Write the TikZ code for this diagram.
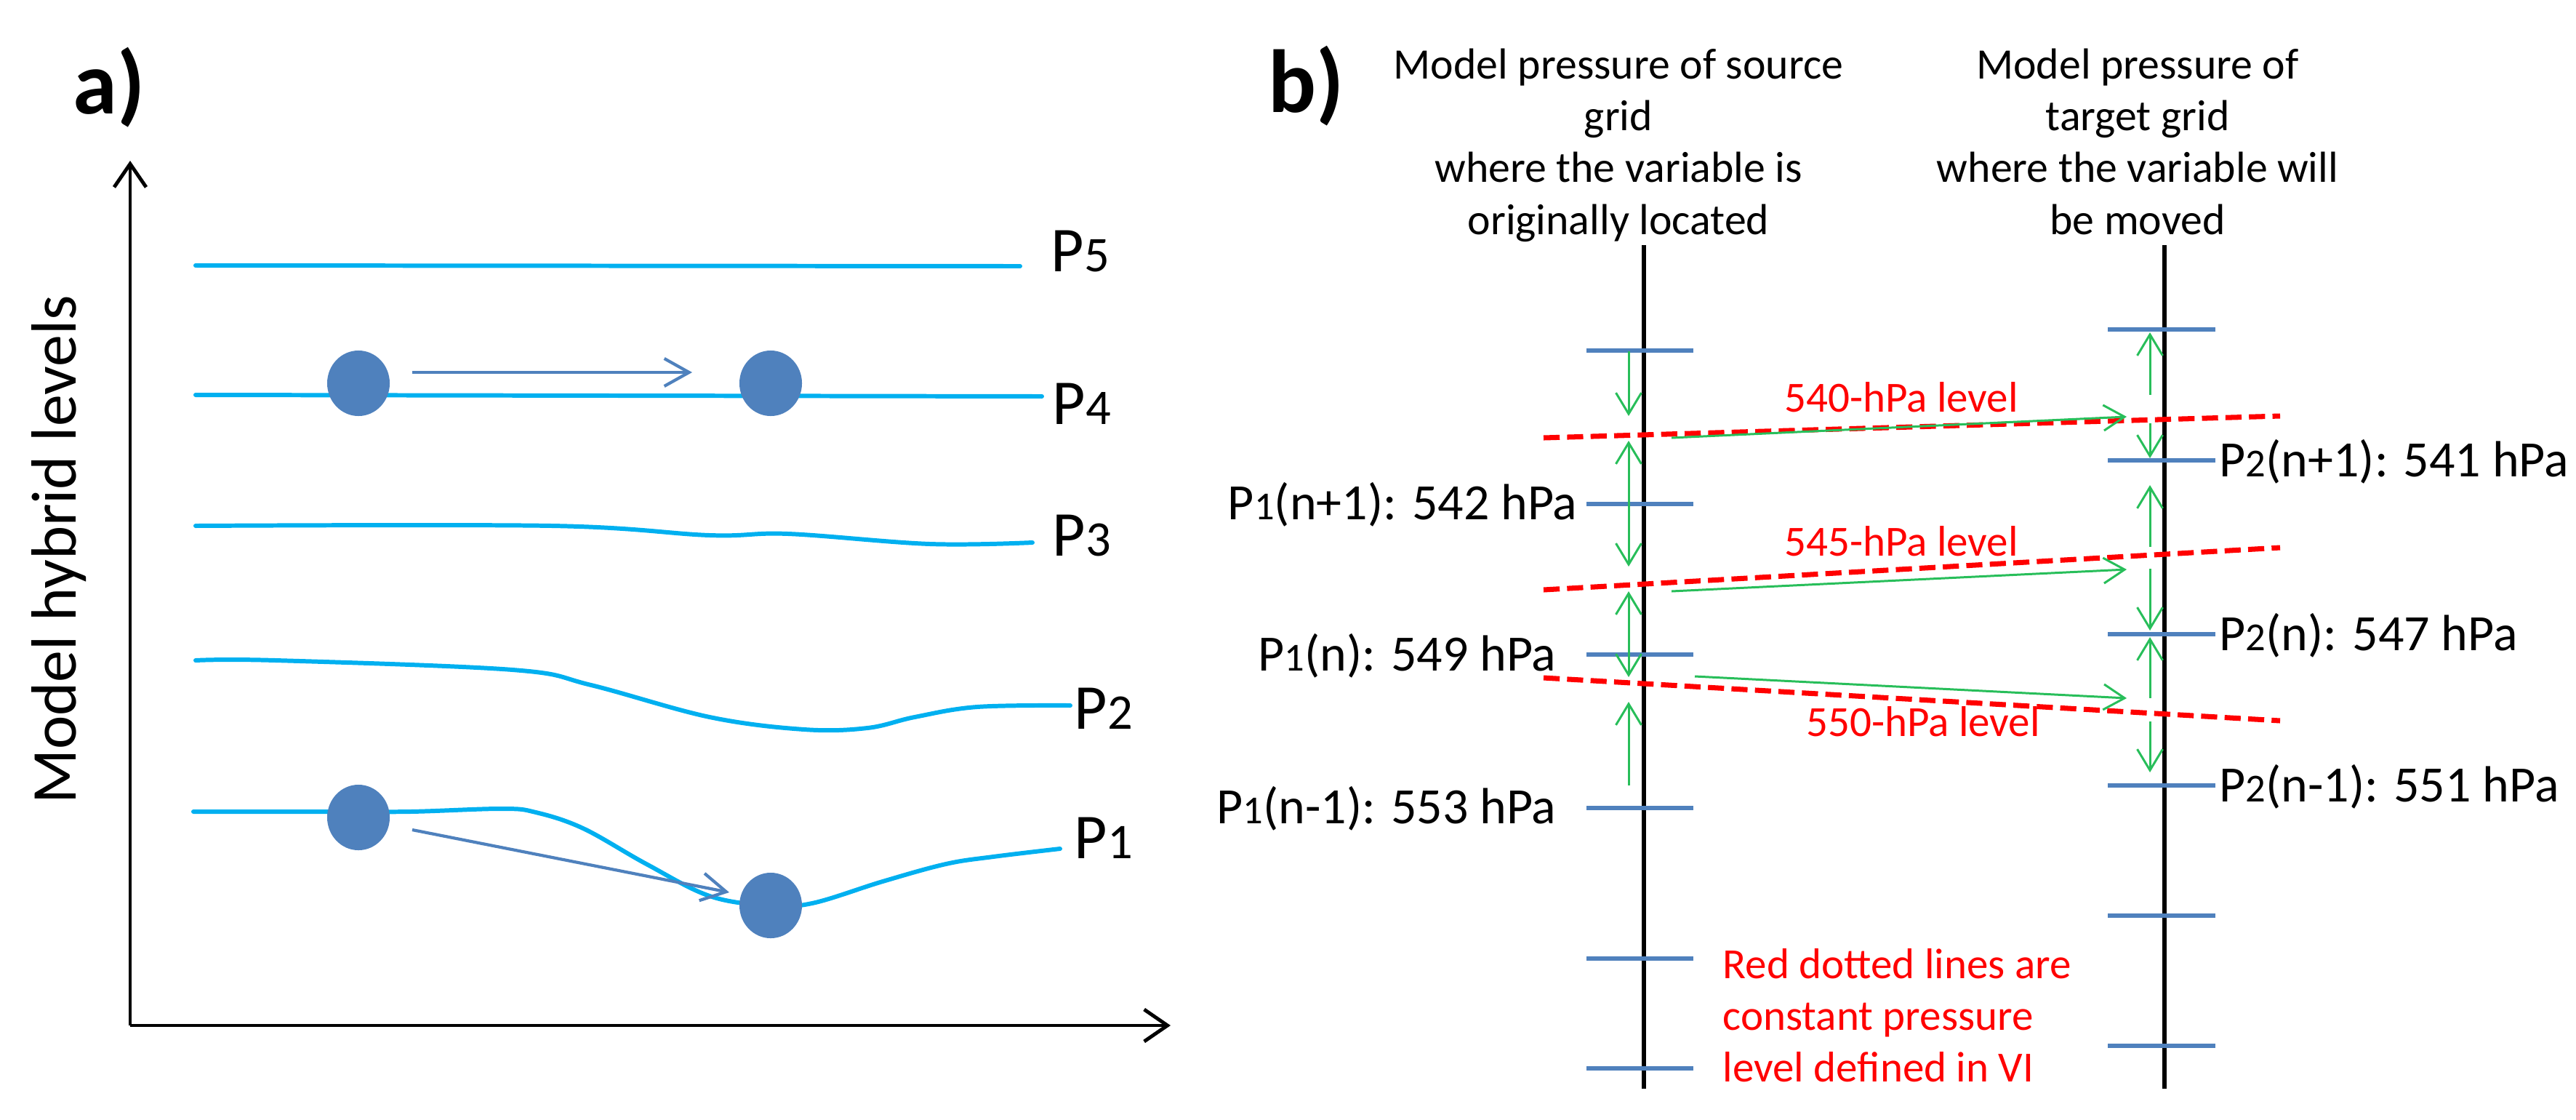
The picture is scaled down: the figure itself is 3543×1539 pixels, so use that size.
\documentclass[tikz,border=0pt]{standalone}
\usepackage{fontspec}
\setmainfont{Carlito}
\usetikzlibrary{arrows.meta,shapes.geometric}
\definecolor{cyanl}{HTML}{00B0F0}
\definecolor{dotb}{HTML}{4F81BD}
\definecolor{grn}{RGB}{40,190,90}
\definecolor{redl}{HTML}{FF0000}
\newcommand\smdig[1]{\scalebox{0.78}{#1}}
\begin{document}
\begin{tikzpicture}[x=0.01cm,y=-0.01cm,
  level/.style={draw=cyanl,line width=1.7pt,line cap=round},
  axisline/.style={draw=black,line width=1.4pt,-{Straight Barb[length=0.32cm,width=0.44cm]}},
  dot/.style={ellipse,fill=dotb,inner sep=0pt,minimum width=0.86cm,minimum height=0.9cm},
  movearr/.style={draw=dotb,line width=1.2pt,-{Straight Barb[length=0.34cm,width=0.38cm]}},
  plab/.style={font=\fontsize{25pt}{30pt}\selectfont,inner sep=0pt},
  tag/.style={font=\fontsize{35pt}{40pt}\selectfont\bfseries,inner sep=0pt},
  head/.style={font=\fontsize{17pt}{20.3pt}\selectfont,align=center,inner sep=0pt,anchor=north},
  vlab/.style={font=\fontsize{19.9pt}{23pt}\selectfont,inner sep=0pt},
  redtxt/.style={font=\fontsize{16.8pt}{20.5pt}\selectfont,text=redl,inner sep=0pt},
  grid/.style={draw=black,line width=1.5pt},
  tick/.style={draw=dotb,line width=1.8pt},
  plevel/.style={draw=redl,line width=2pt,dash pattern=on 6.3pt off 2.9pt},
  garr/.style={draw=grn,line width=0.85pt,-{Straight Barb[length=0.29cm,width=0.35cm]}},
  gdbl/.style={draw=grn,line width=0.85pt,{Straight Barb[length=0.29cm,width=0.35cm]}-{Straight Barb[length=0.29cm,width=0.35cm]}}
]
\useasboundingbox (0,0) rectangle (3543,1539);

% ================= panel a =================
\node[tag] (taga) at (150,120) {a)};
\coordinate (orig) at (179,1410);
\coordinate (ytop) at (179,221);
\coordinate (xend) at (1610,1410);
\draw[axisline] (orig) -- (ytop);
\draw[axisline] (orig) -- (xend);
\node[plab,rotate=90,anchor=base] (ylab) at (104,756) {Model hybrid levels};

% levels
\draw[level] (269,365) -- (1403,366);
\draw[level] (269,543) -- (1433,545);
\draw[level] plot[smooth,tension=0.6] coordinates {(269,723) (759,723) (976,736) (1084,734) (1279,748) (1420,746)};
\draw[level] plot[smooth,tension=0.6] coordinates {(269,908) (379,908) (705,921) (813,942) (976,986) (1106,1003) (1193,1001) (1258,986) (1344,972) (1472,970)};
\draw[level] plot[smooth,tension=0.6] coordinates {(266,1116) (455,1116) (564,1116) (690,1112) (737,1117) (802,1139) (889,1188) (976,1232) (1057,1245) (1117,1242) (1214,1212) (1301,1188) (1366,1178) (1458,1167)};

\node[plab,anchor=base west] (p5) at (1445,373) {P\smdig{5}};
\node[plab,anchor=base west] (p4) at (1447,583) {P\smdig{4}};
\node[plab,anchor=base west] (p3) at (1447,764) {P\smdig{3}};
\node[plab,anchor=base west] (p2) at (1477,1002) {P\smdig{2}};
\node[plab,anchor=base west] (p1) at (1477,1180) {P\smdig{1}};

% dots and moves
\node[dot] (d4a) at (493,527) {};
\node[dot] (d4b) at (1060,527) {};
\node[dot] (d1a) at (493,1124) {};
\node[dot] (d1b) at (1060,1245) {};
\coordinate (m4s) at (567,512);
\coordinate (m4e) at (952,512);
\coordinate (m1s) at (567,1141);
\coordinate (m1e) at (1003,1227);
\draw[movearr] (m4s) -- (m4e);
\draw[movearr] (m1s) -- (m1e);

% ================= panel b =================
\node[tag] (tagb) at (1797,118) {b)};
\node[head] (hsrc) at (2226,66) {Model pressure of source\\grid\\where the variable is\\originally located};
\node[head] (htgt) at (2940,66) {Model pressure of\\target grid\\where the variable will\\be moved};

% grid columns
\coordinate (ltop) at (2261,337);
\coordinate (lbot) at (2261,1497);
\coordinate (rtop) at (2977,337);
\coordinate (rbot) at (2977,1497);
\draw[grid] (ltop) -- (lbot);
\draw[grid] (rtop) -- (rbot);

% ticks left
\foreach \yy/\nm in {482/l1,693/l2,900/l3,1111/l4,1318/l5,1469/l6}{
  \coordinate (\nm w) at (2182,\yy);
  \coordinate (\nm e) at (2329,\yy);
  \draw[tick] (\nm w) -- (\nm e);
}
% ticks right
\foreach \yy/\nm in {453/r1,633/r2,872/r3,1080/r4,1259/r5,1438/r6}{
  \coordinate (\nm w) at (2899,\yy);
  \coordinate (\nm e) at (3047,\yy);
  \draw[tick] (\nm w) -- (\nm e);
}

% labels of ticks
\node[vlab,anchor=base east] (lab542) at (2170,714) {P\smdig{1}(n+1): 542 hPa};
\node[vlab,anchor=base east] (lab549) at (2141,922) {P\smdig{1}(n): 549 hPa};
\node[vlab,anchor=base east] (lab553) at (2141,1132) {P\smdig{1}(n-1): 553 hPa};
\node[vlab,anchor=base west] (lab541) at (3052,655) {P\smdig{2}(n+1): 541 hPa};
\node[vlab,anchor=base west] (lab547) at (3052,894) {P\smdig{2}(n): 547 hPa};
\node[vlab,anchor=base west] (lab551) at (3052,1102) {P\smdig{2}(n-1): 551 hPa};

% constant pressure levels
\coordinate (c540w) at (2123,602); \coordinate (c540e) at (3136,572);
\coordinate (c545w) at (2123,811); \coordinate (c545e) at (3136,753);
\coordinate (c550w) at (2123,932); \coordinate (c550e) at (3136,991);

% green vertical arrows (left)
\draw[garr] (2240,483) -- (2240,572);
\draw[gdbl] (2240,606) -- (2240,779);
\draw[gdbl] (2240,813) -- (2240,931);
\draw[garr] (2240,1080) -- (2240,965);
% green vertical arrows (right)
\draw[garr] (2957,543) -- (2957,457);
\draw[garr] (2957,582) -- (2957,630);
\draw[garr] (2957,752) -- (2957,667);
\draw[garr] (2957,782) -- (2957,867);
\draw[garr] (2957,960) -- (2957,876);
\draw[garr] (2957,992) -- (2957,1062);

% red dashed levels
\draw[plevel] (c540w) -- (c540e);
\draw[plevel] (c545w) -- (c545e);
\draw[plevel] (c550w) -- (c550e);

% green diagonal arrows
\coordinate (g1s) at (2299,602); \coordinate (g1e) at (2925,573);
\coordinate (g2s) at (2299,813); \coordinate (g2e) at (2925,783);
\coordinate (g3s) at (2331,930); \coordinate (g3e) at (2925,960);
\draw[garr] (g1s) -- (g1e);
\draw[garr] (g2s) -- (g2e);
\draw[garr] (g3s) -- (g3e);

% red labels
\node[redtxt,anchor=base] (t540) at (2615,566) {540-hPa level};
\node[redtxt,anchor=base] (t545) at (2615,764) {545-hPa level};
\node[redtxt,anchor=base] (t550) at (2645,1012) {550-hPa level};
\node[redtxt,anchor=base west] (note1) at (2369,1345) {Red dotted lines are};
\node[redtxt,anchor=base west] (note2) at (2369,1416) {constant pressure};
\node[redtxt,anchor=base west] (note3) at (2369,1487) {level defined in VI};
\end{tikzpicture}
\end{document}
